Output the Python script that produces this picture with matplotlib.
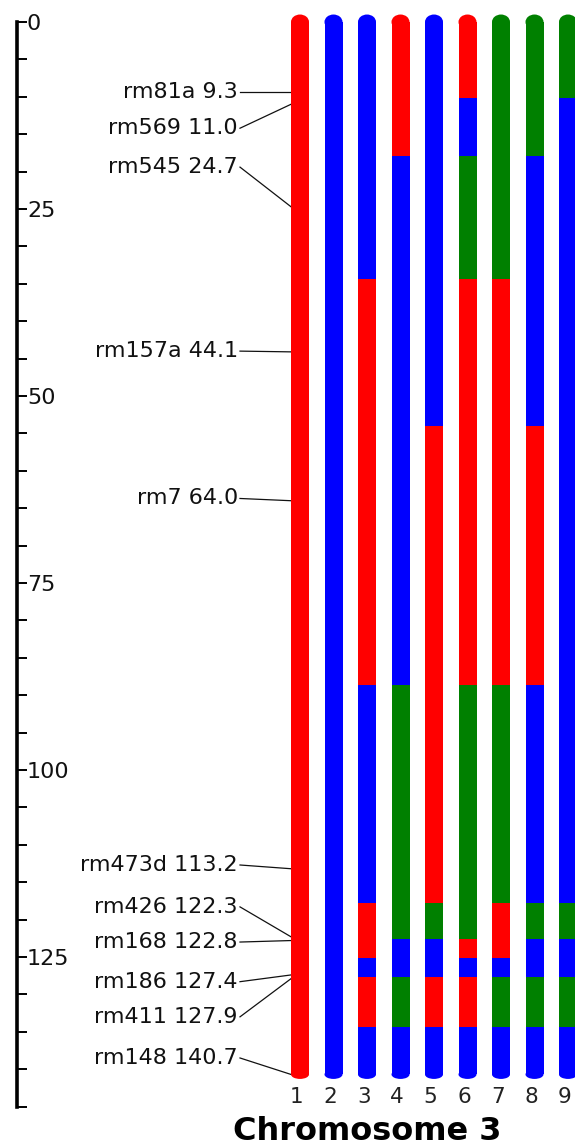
import matplotlib

matplotlib.use("Agg")
import matplotlib.pyplot as plt
from matplotlib.patches import Ellipse

# Marker map for chromosome 3 (cM) and graphical genotypes of 9 lines
MARKERS = ["rm81a", "rm569", "rm545", "rm157a", "rm7", "rm473d",
           "rm426", "rm168", "rm186", "rm411", "rm148"]
POSITIONS = [9.3, 11.0, 24.7, 44.1, 64.0, 113.2, 122.3, 122.8, 127.4, 127.9, 140.7]
LINES = [1, 2, 3, 4, 5, 6, 7, 8, 9]
# one call per marker: R / B / G
GENOTYPES = [
    "RRRRRRRRRRR",
    "BBBBBBBBBBB",
    "BBBRRBRRBRB",
    "RRBBBGGBBGB",
    "BBBBRRGBBRB",
    "RBGRRGGRBRB",
    "GGGRRGRRBGB",
    "GGBBRBGBBGB",
    "GBBBBBGBBGB",
]
AXIS_MAX = 145
MAJOR_TICKS = [0, 25, 50, 75, 100, 125]
MINOR_TICKS = list(range(0, AXIS_MAX + 1, 5))
TITLE = "Chromosome 3"

# label layout (cM where each marker text sits, spread out to avoid overlap)
LABEL_Y = [9.3, 14.2, 19.4, 44.0, 63.7, 112.7, 118.3, 123.0, 128.3, 133.0, 138.5]

COLORS = {"R": "#ff0000", "B": "#0000ff", "G": "#008000"}

# pixel geometry of the reference
W, H = 575, 1148
PX_COL1, PX_STEP = 300.0, 33.5   # x of line 1 centre, spacing between lines
PX_ZERO, PX_PER_CM = 22.0, 7.48  # y of 0 cM, scale
BAR_W = 18 / PX_STEP


def px_to_x(px):
    return 1 + (px - PX_COL1) / PX_STEP


def segments(calls):
    """Merge runs of equal calls; boundaries sit halfway between markers."""
    bounds = [0.0]
    for a, b in zip(POSITIONS[:-1], POSITIONS[1:]):
        bounds.append((a + b) / 2)
    bounds.append(POSITIONS[-1])
    out = []
    start = bounds[0]
    for i, c in enumerate(calls):
        last = i == len(calls) - 1
        if last or calls[i + 1] != c:
            out.append((start, bounds[i + 1], c))
            start = bounds[i + 1]
    return out


fig = plt.figure(figsize=(W / 100, H / 100), dpi=100)
ax = fig.add_axes([0, 0, 1, 1])
ax.set_xlim(px_to_x(0), px_to_x(W))
ax.set_ylim((H - PX_ZERO) / PX_PER_CM, -PX_ZERO / PX_PER_CM)

# chromosome bars
for line, calls in zip(LINES, GENOTYPES):
    for lo, hi, c in segments(calls):
        ax.bar(line, hi - lo, bottom=lo, width=BAR_W, color=COLORS[c],
               linewidth=0, zorder=2)
    ax.add_patch(Ellipse((line, 0), BAR_W, 2.0, color=COLORS[calls[0]],
                         linewidth=0, zorder=2))
    ax.add_patch(Ellipse((line, POSITIONS[-1]), BAR_W, 1.2,
                         color=COLORS[calls[-1]], linewidth=0, zorder=2))
    ax.text(line - 0.1, 143.7, str(line), ha="center", va="center",
            fontsize=15.5, color="#222222")

# marker labels and leader lines
text_x = px_to_x(238)
chrom_edge = 1 - BAR_W / 2
for name, pos, ly in zip(MARKERS, POSITIONS, LABEL_Y):
    ax.text(text_x, ly, f"{name} {pos:.1f}", ha="right", va="center",
            fontsize=16, color="#111111")
    ax.plot([px_to_x(240), chrom_edge], [ly, pos], color="#111111",
            linewidth=0.9, zorder=1)

ax.text(px_to_x(367), 149.4, TITLE, ha="center", va="baseline",
        fontsize=23, fontweight="bold", color="black")

# cM ruler on the left
for side in ["top", "right", "bottom"]:
    ax.spines[side].set_visible(False)
ax.spines["left"].set_position(("data", px_to_x(16.5)))
ax.spines["left"].set_bounds(0, AXIS_MAX)
ax.spines["left"].set_linewidth(2.6)
ax.set_xticks([])
ax.set_yticks(MAJOR_TICKS)
ax.set_yticks(MINOR_TICKS, minor=True)
ax.tick_params(axis="y", which="both", direction="in", length=7, width=1.4,
               color="black")
ax.tick_params(axis="y", which="major", pad=-7.5, labelsize=16)
plt.setp(ax.get_yticklabels(), ha="left", color="#111111")

fig.savefig("out.png", dpi=100)
